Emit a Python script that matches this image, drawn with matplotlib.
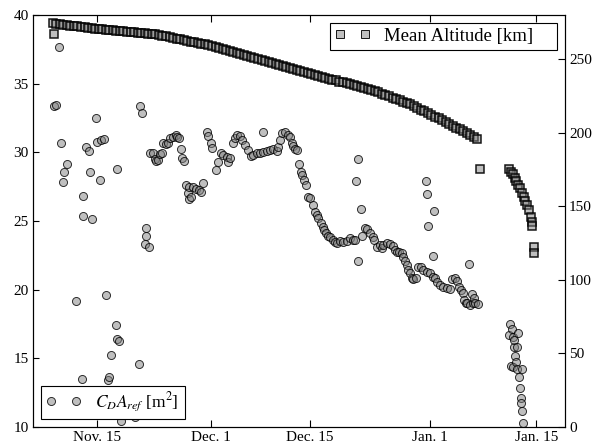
import matplotlib.pyplot as plt
import numpy as np

plt.rcParams['font.family'] = 'Liberation Serif'
plt.rcParams['mathtext.fontset'] = 'stix'

# time axis in days since Nov. 1
tick_days = [14, 30, 44, 61, 76]
tick_labels = ['Nov. 15', 'Dec. 1', 'Dec. 15', 'Jan. 1', 'Jan. 15']

# mean altitude [km], first arc sampled every half day from day 7.7
alt_start = 7.7
alt_step = 0.5
alt_main = [
    274.3, 274.0, 273.7, 273.4, 273.1, 272.8, 272.5, 272.2, 271.9, 271.6,
    271.3, 271.0, 270.7, 270.4, 270.2, 270.0, 269.8, 269.6, 269.4, 269.1,
    268.9, 268.7, 268.5, 268.3, 268.1, 267.9, 267.6, 267.4, 267.2, 267.0,
    266.5, 266.0, 265.5, 265.0, 264.5, 264.0, 263.5, 263.0, 262.5, 262.0,
    261.5, 261.0, 260.5, 260.0, 259.5, 259.0, 258.3, 257.6, 257.0, 256.3,
    255.6, 254.9, 254.2, 253.6, 252.9, 252.2, 251.5, 250.8, 250.2, 249.5,
    248.8, 248.1, 247.4, 246.8, 246.1, 245.4, 244.7, 244.0, 243.4, 242.7,
    242.0, 241.3, 240.7, 240.0, 239.4, 238.7, 238.1, 237.4, 236.8, 236.1,
    235.5, 234.8, 234.2, 233.5, 232.9, 232.2, 231.6, 230.9, 230.3, 229.6,
    229.0, 228.3, 227.4, 226.5, 225.6, 224.7, 223.8, 222.9, 222.0, 221.1,
    220.2, 219.3, 218.1, 216.9, 215.7, 214.5, 213.3, 212.1, 210.9, 209.7,
    208.5, 207.3, 206.0, 204.8, 203.5, 202.3, 201.0, 199.8, 198.5, 197.3,
    196.0,
]
alt_end_days = [72.20, 72.45, 72.70, 72.95, 73.20, 73.45, 73.70, 73.95,
                74.20, 74.45, 74.70, 74.95, 75.20, 75.35, 75.45]
alt_end = [175.3, 173.6, 171.7, 169.4, 167.0, 164.6, 162.2, 159.2,
           156.2, 153.8, 151.2, 147.7, 142.8, 139.5, 136.3]
alt_odd_days = [7.84, 68.05, 75.68, 75.68]
alt_odd = [267.3, 175.3, 122.5, 118.4]

# drag area CD*Aref [m^2]
cda_days = [
    7.84, 8.12, 8.55, 8.87, 9.11, 9.25, 9.72, 10.95, 11.80, 12.02,
    11.98, 12.45, 12.83, 13.21, 13.01, 13.86, 14.00, 14.42, 14.56, 14.90,
    15.19, 15.47, 15.69, 15.94, 16.64, 16.74, 16.82, 17.06, 17.39, 19.28,
    19.89, 20.07, 20.31, 20.92, 20.92, 20.78, 21.26,
    21.40, 21.87, 22.11, 22.33, 22.62, 22.81, 23.18, 23.28, 23.66, 23.99,
    24.23, 24.69, 25.07, 25.26, 25.50, 25.78, 25.92, 26.20,
    26.49, 26.81, 26.95, 26.95, 27.19, 27.52, 27.98, 28.36, 28.69, 28.97,
    29.45, 29.68, 30.02, 30.24, 30.77, 31.09, 31.43, 31.80, 32.28, 32.42,
    32.74, 33.21, 33.45, 33.69, 34.16, 34.40, 34.86, 35.33, 35.71, 36.03,
    36.51, 36.98, 37.36, 37.45, 37.93, 38.39, 38.86, 39.34, 39.56, 39.81,
    40.05, 40.51, 40.98, 41.22, 41.46, 41.68, 41.92, 42.16, 42.53, 42.73,
    42.95, 43.19, 43.48, 43.80, 44.04, 44.42, 44.75, 44.99, 45.21, 45.55,
    45.84, 46.02, 46.30, 46.63, 46.87, 47.25, 47.57, 47.81, 48.28, 48.75,
    49.23, 49.69, 50.07, 50.40, 50.50, 50.86, 50.86, 51.25, 51.43, 51.81,
    52.14, 52.52, 52.90, 53.08, 53.46, 53.93, 54.17, 54.40, 54.88, 55.34,
    55.72, 56.05, 56.29, 56.66, 56.99, 57.22, 57.46, 57.70, 57.93, 58.17,
    58.41, 58.63, 59.01, 59.34, 59.68, 60.05, 60.43, 60.53, 60.61, 60.75,
    60.99, 61.37, 61.37, 61.56, 61.70, 62.02, 62.40, 62.87, 63.35, 63.81,
    64.06, 64.52, 64.85, 65.13, 65.37, 65.61, 65.84, 66.08, 66.18, 66.54,
    66.64, 66.92, 67.02, 67.21, 67.35, 67.73,
    72.19, 72.29, 72.43, 72.53, 72.67, 72.76, 72.86, 72.90, 73.00, 73.14,
    73.24, 73.24, 73.46, 73.56, 73.71, 73.81, 73.85, 73.95, 73.95, 74.08,
]
cda_vals = [
    33.37, 33.42, 37.65, 30.70, 27.84, 28.54, 29.15, 19.15, 13.47, 26.84,
    25.38, 30.41, 30.10, 25.14, 28.59, 32.48, 30.75, 27.96, 30.90, 30.95,
    19.59, 13.42, 13.66, 15.24, 17.44, 28.81, 16.38, 16.28, 10.43, 10.74,
    14.56, 33.35, 32.86, 24.49, 23.90, 23.30, 23.08,
    29.93, 29.97, 29.51, 29.39, 29.44, 29.85, 29.93, 30.66, 30.58, 30.66,
    31.02, 31.14, 31.26, 31.14, 31.02, 30.24, 29.61, 29.39,
    27.62, 27.01, 26.62, 27.50, 26.77, 27.45, 27.35, 27.25, 27.13, 27.74,
    31.50, 31.17, 30.66, 30.34, 28.71, 29.32, 29.95, 29.80, 29.68, 29.32,
    29.61, 30.66, 31.02, 31.26, 31.19, 30.90, 30.53, 30.17, 29.73, 29.80,
    29.93, 29.97, 31.50, 30.05, 30.12, 30.17, 30.22, 30.12, 30.41, 30.90,
    31.38, 31.50, 31.26, 31.14, 30.66, 30.46, 30.22, 30.17, 29.15, 28.59,
    28.35, 27.98, 27.62, 26.77, 26.65, 26.16, 25.67, 25.43, 25.19, 24.83,
    24.58, 24.34, 24.10, 23.90, 23.81, 23.61, 23.49, 23.37, 23.54, 23.45,
    23.56, 23.74, 23.61, 23.61, 27.95, 29.49, 22.10, 25.86, 23.90, 24.46,
    24.39, 24.10, 23.85, 23.61, 23.12, 23.25, 23.00, 23.25, 23.37, 23.30,
    23.18, 22.88, 22.76, 22.72, 22.64, 22.40, 22.08, 21.79, 21.43, 21.19,
    20.87, 20.77, 20.82, 21.67, 21.62, 21.43, 27.93, 27.00, 21.30, 24.63,
    21.19, 20.94, 22.45, 25.70, 20.82, 20.58, 20.34, 20.21, 20.09, 20.02,
    20.75, 20.82, 20.65, 20.21, 19.97, 19.73, 19.24, 19.00, 19.00, 21.86,
    18.88, 19.68, 19.00, 19.37, 19.00, 18.95,
    16.69, 17.47, 14.46, 17.11, 16.52, 14.34, 15.84, 16.33, 15.16, 14.75,
    15.80, 14.19, 16.81, 13.61, 12.81, 12.08, 11.72, 11.18, 14.19, 10.26,
]

alt_days = alt_start + alt_step * np.arange(len(alt_main))
all_alt_days = np.concatenate([alt_days, alt_end_days, alt_odd_days])
all_alt = np.concatenate([alt_main, alt_end, alt_odd])

face = (0.5, 0.5, 0.5, 0.5)
edge = (0.0, 0.0, 0.0, 0.8)

fig = plt.figure(figsize=(5.97, 4.43), dpi=100)
ax = fig.add_axes([0.0553, 0.0361, 0.8911, 0.9300])
ax2 = ax.twinx()

h_cda, = ax.plot(cda_days, cda_vals, 'o', ms=5.8, mfc=face, mec=edge, mew=0.7,
                 label=r'$C_D A_{ref}$ [m$^2$]' + '\u2003')
h_alt, = ax2.plot(all_alt_days, all_alt, 's', ms=5.6, mfc=face,
                  mec=(0.0, 0.0, 0.0, 0.9), mew=1.1,
                  label='Mean Altitude [km]\u2003')

ax.set_xlim(4.92, 80.06)
ax.set_ylim(10, 40)
ax2.set_ylim(0, 280)
ax.set_xticks(tick_days)
ax.set_xticklabels(tick_labels)
ax.set_yticks(np.arange(10, 41, 5))
ax2.set_yticks(np.arange(0, 251, 50))

ax.tick_params(axis='x', direction='in', length=5, top=True, labelsize=11, pad=3)
ax.tick_params(axis='y', direction='in', length=4, labelsize=11, pad=3)
ax2.tick_params(axis='y', direction='in', length=5, labelsize=11, pad=3)
for a in (ax, ax2):
    for s in a.spines.values():
        s.set_linewidth(0.8)

leg_kw = dict(numpoints=2, fontsize=13.5, handlelength=1.9, borderpad=0.25,
              handletextpad=0.75, borderaxespad=0.43, fancybox=False,
              edgecolor='k', framealpha=1)
leg1 = ax2.legend(handles=[h_alt], loc='upper right', **leg_kw)
leg1.get_frame().set_linewidth(0.8)
for h in leg1.legend_handles:
    h.set_markeredgewidth(0.7)
ax2.add_artist(leg1)
leg2 = ax2.legend(handles=[h_cda], loc='lower left', **leg_kw)
leg2.get_frame().set_linewidth(0.8)
for t in leg2.get_texts():
    t.set_fontsize(12.5)

fig.savefig('out.png', dpi=100)
